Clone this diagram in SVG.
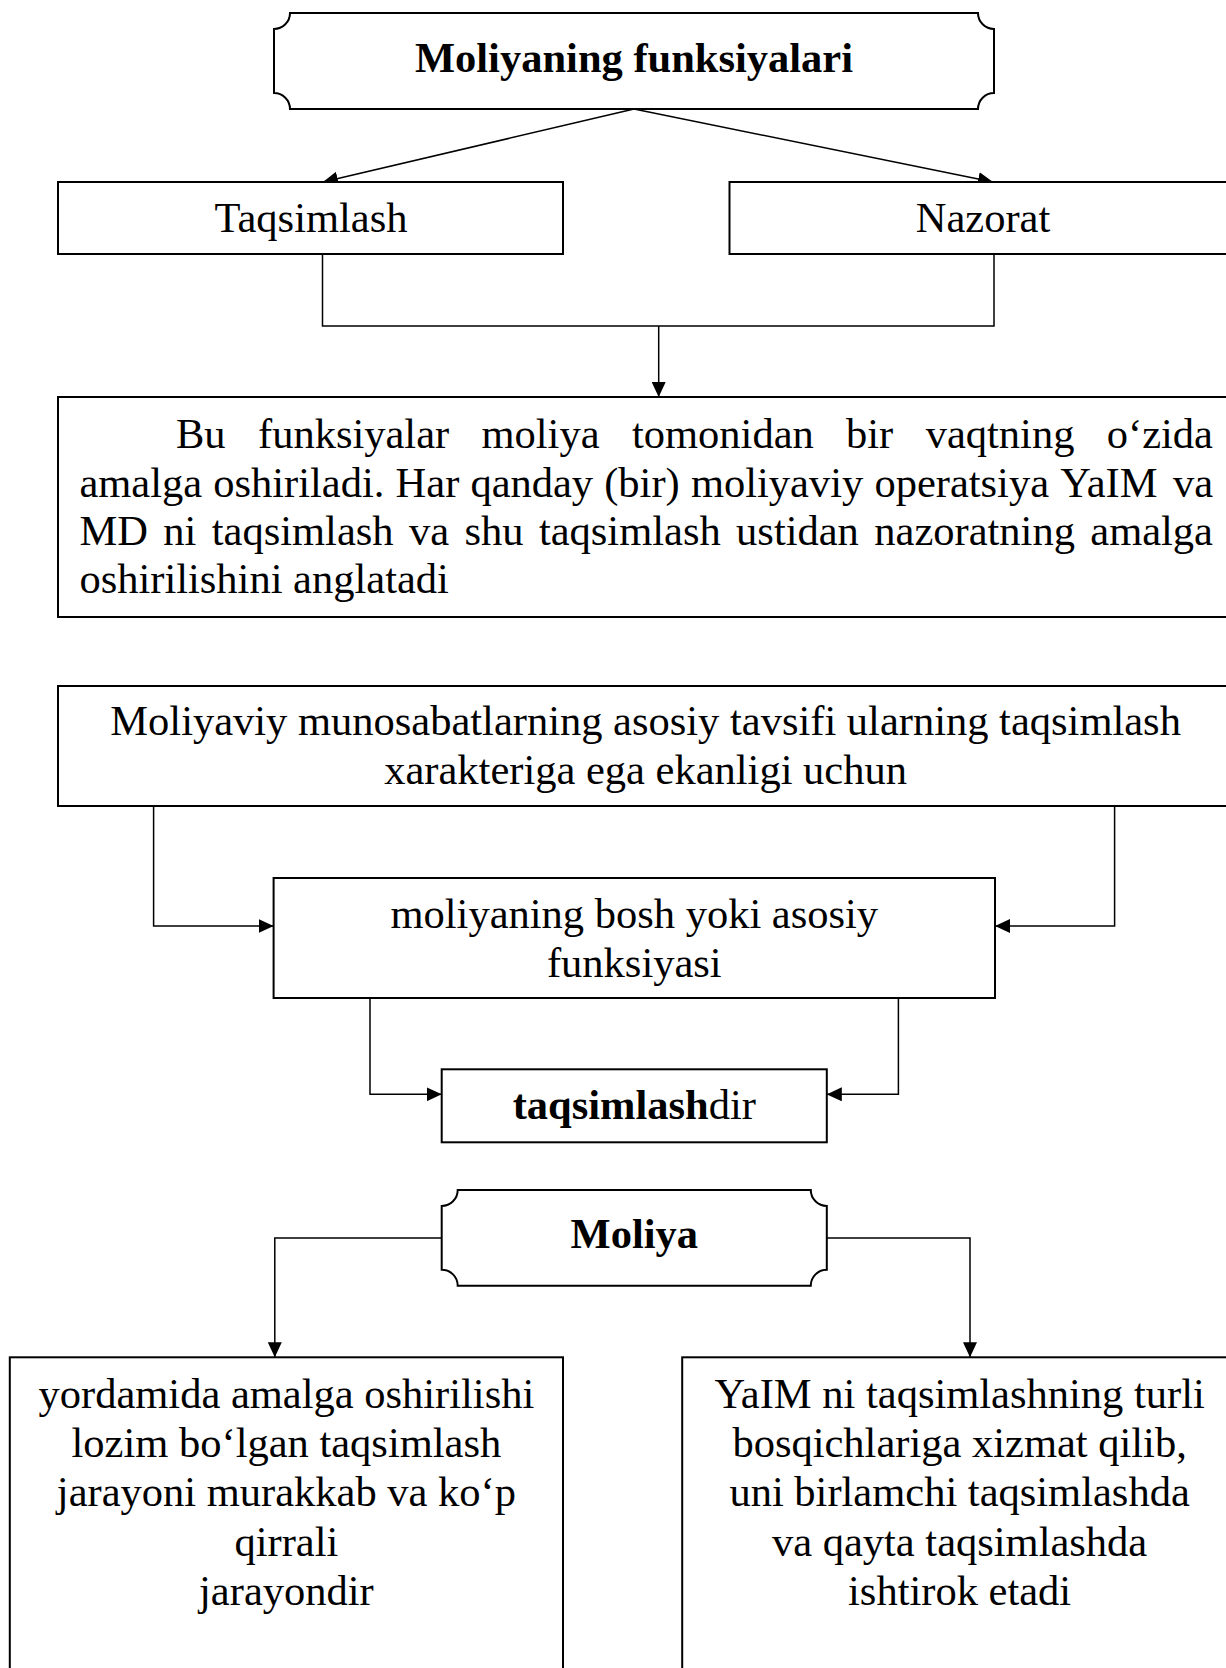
<svg xmlns="http://www.w3.org/2000/svg" width="1226" height="1668" viewBox="0 0 1226 1668">
<style>
.box{fill:#fff;stroke:#000;stroke-width:2}
.t{font-family:"Liberation Serif","Times New Roman",serif;font-size:42.5px;fill:#000}
.b{font-weight:bold}
.c{text-anchor:middle}
.con{fill:none;stroke:#000;stroke-width:1.5}
</style>
<defs>
<marker id="ah" markerUnits="userSpaceOnUse" viewBox="0 0 15 14" refX="15" refY="7" markerWidth="15" markerHeight="14" orient="auto">
<path d="M0,0 L15,7 L0,14 Z" fill="#000"/>
</marker>
</defs>
<rect width="1226" height="1668" fill="#fff"/>

<g id="connectors">
<path class="con" d="M634 109 L323 182" marker-end="url(#ah)"/>
<path class="con" d="M634 109 L993 182" marker-end="url(#ah)"/>
<path class="con" d="M322.5 254 V326 H994 V254"/>
<path class="con" d="M658.7 326 V397" marker-end="url(#ah)"/>
<path class="con" d="M153.6 806 V926 H273.6" marker-end="url(#ah)"/>
<path class="con" d="M1114.6 806 V926 H995" marker-end="url(#ah)"/>
<path class="con" d="M370 998 V1094.3 H441.7" marker-end="url(#ah)"/>
<path class="con" d="M898.4 998 V1094.3 H826.8" marker-end="url(#ah)"/>
<path class="con" d="M441.7 1238 H274.8 V1357.3" marker-end="url(#ah)"/>
<path class="con" d="M826.8 1238 H970 V1357.3" marker-end="url(#ah)"/>
</g>

<g id="title">
<path class="box" d="M290 13 H978 A16 16 0 0 0 994 29 V93 A16 16 0 0 0 978 109 H290 A16 16 0 0 0 274 93 V29 A16 16 0 0 0 290 13 Z"/>
<text class="t b c" x="634" y="72">Moliyaning funksiyalari</text>
</g>

<g id="taqsimlash">
<rect class="box" x="58" y="182" width="505" height="72"/>
<text class="t c" x="311" y="232">Taqsimlash</text>
</g>

<g id="nazorat">
<rect class="box" x="729.5" y="182" width="507" height="72"/>
<text class="t c" x="983" y="232">Nazorat</text>
</g>

<g id="izoh">
<rect class="box" x="58" y="397" width="1178" height="220"/>
<text class="t" y="448"><tspan x="176">Bu</tspan><tspan x="258">funksiyalar</tspan><tspan x="481.5">moliya</tspan><tspan x="632">tomonidan</tspan><tspan x="846">bir</tspan><tspan x="925.7">vaqtning</tspan><tspan x="1213" text-anchor="end">o‘zida</tspan></text>
<text class="t" y="497"><tspan x="79.4">amalga</tspan><tspan x="213.2">oshiriladi.</tspan><tspan x="395.6">Har</tspan><tspan x="470.4">qanday</tspan><tspan x="604.2">(bir)</tspan><tspan x="690.9">moliyaviy</tspan><tspan x="874.4">operatsiya</tspan><tspan x="1060.2">YaIM</tspan><tspan x="1213" text-anchor="end">va</tspan></text>
<text class="t" y="545"><tspan x="79.4">MD</tspan><tspan x="163.3">ni</tspan><tspan x="211.8">taqsimlash</tspan><tspan x="409">va</tspan><tspan x="464.5">shu</tspan><tspan x="538.9">taqsimlash</tspan><tspan x="736.1">ustidan</tspan><tspan x="874.3">nazoratning</tspan><tspan x="1213" text-anchor="end">amalga</tspan></text>
<text class="t" x="79.4" y="593">oshirilishini anglatadi</text>
</g>

<g id="munosabat">
<rect class="box" x="58" y="686" width="1176" height="120"/>
<text class="t c" x="645.6" y="735">Moliyaviy munosabatlarning asosiy tavsifi ularning taqsimlash</text>
<text class="t c" x="645.6" y="784">xarakteriga ega ekanligi uchun</text>
</g>

<g id="bosh-funksiya">
<rect class="box" x="273.6" y="878" width="721.4" height="120"/>
<text class="t c" x="634.3" y="928.3">moliyaning bosh yoki asosiy</text>
<text class="t c" x="634.3" y="976.7">funksiyasi</text>
</g>

<g id="taqsimlashdir">
<rect class="box" x="441.7" y="1069.3" width="385.1" height="73"/>
<text class="t c" x="634.3" y="1119.3"><tspan class="b">taqsimlash</tspan>dir</text>
</g>

<g id="moliya">
<path class="box" d="M457.7 1190 H810.8 A16 16 0 0 0 826.8 1206 V1269.7 A16 16 0 0 0 810.8 1285.7 H457.7 A16 16 0 0 0 441.7 1269.7 V1206 A16 16 0 0 0 457.7 1190 Z"/>
<text class="t b c" x="634.3" y="1248.3">Moliya</text>
</g>

<g id="jarayon">
<rect class="box" x="9.8" y="1357.3" width="553.2" height="340"/>
<text class="t c" x="286.4" y="1408.3">yordamida amalga oshirilishi</text>
<text class="t c" x="286.4" y="1457">lozim bo‘lgan taqsimlash</text>
<text class="t c" x="286.4" y="1506.3">jarayoni murakkab va ko‘p</text>
<text class="t c" x="286.4" y="1555.5">qirrali</text>
<text class="t c" x="286.4" y="1604.5">jarayondir</text>
</g>

<g id="yaim">
<rect class="box" x="682.2" y="1357.3" width="555" height="340"/>
<text class="t c" x="959.6" y="1408.3">YaIM ni taqsimlashning turli</text>
<text class="t c" x="959.6" y="1457">bosqichlariga xizmat qilib,</text>
<text class="t c" x="959.6" y="1506.3">uni birlamchi taqsimlashda</text>
<text class="t c" x="959.6" y="1555.5">va qayta taqsimlashda</text>
<text class="t c" x="959.6" y="1604.5">ishtirok etadi</text>
</g>
</svg>
